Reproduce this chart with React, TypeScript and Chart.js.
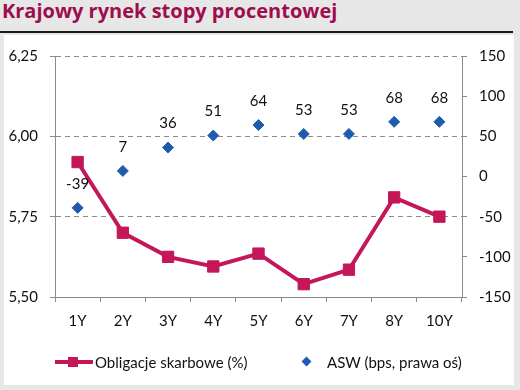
import { useEffect, useRef } from "react";
import { Chart, registerables } from "chart.js";

Chart.register(...registerables);

// Tenors on the curve
const categories = ["1Y", "2Y", "3Y", "4Y", "5Y", "6Y", "7Y", "8Y", "10Y"];
// Treasury bond yields, % (left axis)
const bondYields = [5.92, 5.7, 5.625, 5.595, 5.635, 5.54, 5.585, 5.81, 5.75];
// Asset swap spreads, bps (right axis)
const aswSpreads = [-39, 7, 36, 51, 64, 53, 53, 68, 68];
// Axis ranges
const leftAxis = { min: 5.5, max: 6.25, step: 0.25 };
const rightAxis = { min: -150, max: 150, step: 50 };

const titleText = "Krajowy rynek stopy procentowej";
const bondLabel = "Obligacje skarbowe (%)";
const aswLabel = "ASW (bps, prawa oś)";

const FONT = "Lato, 'Open Sans', sans-serif";
const TITLE_FONT = "'Open Sans', Lato, sans-serif";
const BOND_COLOR = "#c4175a";
const ASW_COLOR = "#1f5cae";
const AXIS_COLOR = "#8c8c8c";

// Writes the ASW value above each diamond
const valueLabels = {
  id: "valueLabels",
  afterDatasetsDraw(chart: any) {
    const meta = chart.getDatasetMeta(1);
    const ctx = chart.ctx;
    ctx.save();
    ctx.font = `15px ${FONT}`;
    ctx.fillStyle = "#111";
    ctx.textAlign = "center";
    ctx.textBaseline = "middle";
    meta.data.forEach((pt: any, i: number) => {
      ctx.fillText(String(aswSpreads[i]), pt.x, pt.y - 24);
    });
    ctx.restore();
  },
};

export default function App() {
  const canvasRef = useRef<HTMLCanvasElement | null>(null);

  useEffect(() => {
    document.body.style.margin = "0";
    const canvas = canvasRef.current;
    if (!canvas) return;
    const chart = new Chart(canvas, {
      type: "line",
      data: {
        labels: categories,
        datasets: [
          {
            label: bondLabel,
            data: bondYields,
            yAxisID: "y",
            borderColor: BOND_COLOR,
            backgroundColor: BOND_COLOR,
            borderWidth: 4,
            pointStyle: "rect",
            pointRadius: 8,
            pointBorderWidth: 1,
            pointBackgroundColor: BOND_COLOR,
            pointBorderColor: BOND_COLOR,
            tension: 0,
            order: 0,
          },
          {
            label: aswLabel,
            data: aswSpreads,
            yAxisID: "y1",
            showLine: false,
            borderColor: ASW_COLOR,
            backgroundColor: ASW_COLOR,
            pointStyle: "rectRot",
            pointRadius: 5.5,
            pointBorderWidth: 1,
            pointBackgroundColor: ASW_COLOR,
            pointBorderColor: ASW_COLOR,
            order: 1,
          },
        ],
      },
      options: {
        responsive: false,
        animation: false,
        devicePixelRatio: 1,
        layout: { padding: { top: 19, left: 0, right: 0, bottom: 0 } },
        plugins: {
          legend: { display: false },
          title: { display: false },
          tooltip: { enabled: false },
        },
        scales: {
          x: {
            type: "category",
            offset: true,
            grid: {
              offset: true,
              drawOnChartArea: false,
              tickLength: 5,
              color: AXIS_COLOR,
              tickColor: AXIS_COLOR,
            },
            border: { color: AXIS_COLOR, width: 1 },
            ticks: {
              color: "#111",
              font: { family: FONT, size: 15 },
              padding: 10,
              maxRotation: 0,
            },
            afterFit(scale: any) {
              scale.height = 88;
            },
          },
          y: {
            position: "left",
            min: leftAxis.min,
            max: leftAxis.max,
            grid: {
              color: (c: any) =>
                c.tick && c.tick.value === leftAxis.min ? "rgba(0,0,0,0)" : AXIS_COLOR,
              tickColor: AXIS_COLOR,
              tickLength: 5,
              lineWidth: 1,
            },
            border: { color: AXIS_COLOR, width: 1, dash: [5, 4] },
            ticks: {
              stepSize: leftAxis.step,
              color: "#111",
              font: { family: FONT, size: 15 },
              padding: 12,
              callback: (v: any) => Number(v).toFixed(2).replace(".", ","),
            },
            afterFit(scale: any) {
              scale.width = 51;
            },
          },
          y1: {
            position: "right",
            min: rightAxis.min,
            max: rightAxis.max,
            grid: {
              drawOnChartArea: false,
              tickColor: AXIS_COLOR,
              color: AXIS_COLOR,
              tickLength: 5,
            },
            border: { color: AXIS_COLOR, width: 1 },
            ticks: {
              stepSize: rightAxis.step,
              color: "#111",
              font: { family: FONT, size: 15 },
              padding: 12,
            },
            afterFit(scale: any) {
              scale.width = 52;
            },
          },
        },
      },
      plugins: [valueLabels],
    });
    return () => chart.destroy();
  }, []);

  return (
    <div
      style={{
        position: "relative",
        width: 520,
        height: 390,
        background: "#e7e7e7",
        overflow: "hidden",
        fontFamily: FONT,
      }}
    >
      <div
        style={{
          position: "absolute",
          left: 2,
          top: -2,
          fontFamily: TITLE_FONT,
          fontSize: 20,
          fontWeight: 700,
          color: "#9e0d4e",
          lineHeight: "26px",
          whiteSpace: "nowrap",
        }}
      >
        {titleText}
      </div>
      <div
        style={{
          position: "absolute",
          left: 0,
          top: 31,
          width: 513,
          height: 2,
          background: "#1a1a1a",
        }}
      />
      <div
        style={{
          position: "absolute",
          left: 4,
          top: 35,
          width: 510,
          height: 350,
          background: "#fff",
        }}
      >
        <canvas ref={canvasRef} width={510} height={350} style={{ display: "block" }} />
      </div>
      {/* legend */}
      <div
        style={{
          position: "absolute",
          left: 55,
          top: 360,
          width: 38,
          height: 4,
          background: BOND_COLOR,
        }}
      />
      <div
        style={{
          position: "absolute",
          left: 68,
          top: 357,
          width: 10,
          height: 10,
          background: BOND_COLOR,
        }}
      />
      <div
        style={{
          position: "absolute",
          left: 95,
          top: 352,
          fontSize: 15,
          lineHeight: "20px",
          color: "#111",
          whiteSpace: "nowrap",
        }}
      >
        {bondLabel}
      </div>
      <div
        style={{
          position: "absolute",
          left: 303,
          top: 358,
          width: 7,
          height: 7,
          background: ASW_COLOR,
          transform: "rotate(45deg)",
        }}
      />
      <div
        style={{
          position: "absolute",
          left: 327,
          top: 352,
          fontSize: 15,
          lineHeight: "20px",
          color: "#111",
          whiteSpace: "nowrap",
        }}
      >
        {aswLabel}
      </div>
    </div>
  );
}
